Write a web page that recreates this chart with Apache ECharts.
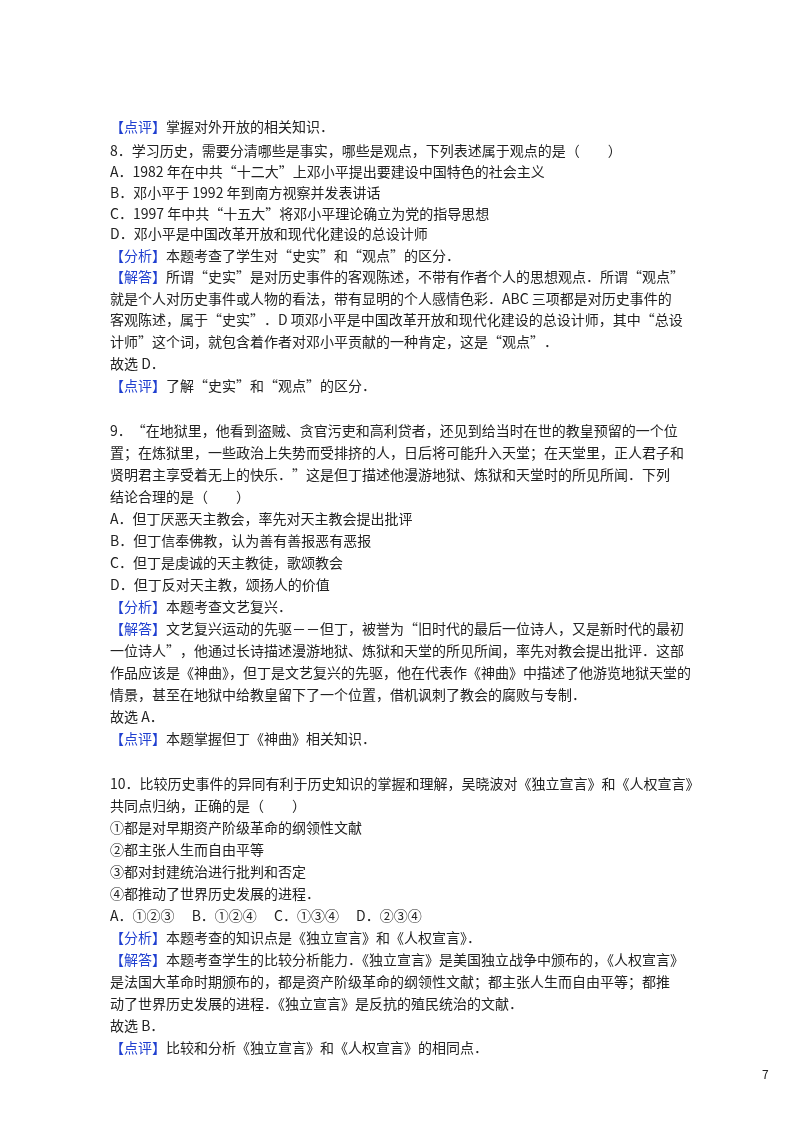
<!DOCTYPE html>
<html><head><meta charset="utf-8">
<script src="https://cdn.jsdelivr.net/npm/echarts@6/dist/echarts.min.js"></script>
<style>html,body{margin:0;padding:0;background:#fff}#c{width:800px;height:1132px}</style>
</head><body><div id="c"></div>
<script>
// Each entry: [y position of line center, text]; text in 【】 tags is blue
const lines = [
[127,'【点评】掌握对外开放的相关知识．'],
[151,'8．学习历史，需要分清哪些是事实，哪些是观点，下列表述属于观点的是（　　）'],
[172,'A．1982 年在中共“十二大”上邓小平提出要建设中国特色的社会主义'],
[193,'B．邓小平于 1992 年到南方视察并发表讲话'],
[214,'C．1997 年中共“十五大”将邓小平理论确立为党的指导思想'],
[234,'D．邓小平是中国改革开放和现代化建设的总设计师'],
[256,'【分析】本题考查了学生对“史实”和“观点”的区分．'],
[277,'【解答】所谓“史实”是对历史事件的客观陈述，不带有作者个人的思想观点．所谓“观点”'],
[299,'就是个人对历史事件或人物的看法，带有显明的个人感情色彩．ABC 三项都是对历史事件的'],
[320,'客观陈述，属于“史实”．D 项邓小平是中国改革开放和现代化建设的总设计师，其中“总设'],
[342,'计师”这个词，就包含着作者对邓小平贡献的一种肯定，这是“观点”．'],
[364,'故选 D．'],
[386,'【点评】了解“史实”和“观点”的区分．'],
[431,'9．“在地狱里，他看到盗贼、贪官污吏和高利贷者，还见到给当时在世的教皇预留的一个位'],
[453,'置；在炼狱里，一些政治上失势而受排挤的人，日后将可能升入天堂；在天堂里，正人君子和'],
[475,'贤明君主享受着无上的快乐．”这是但丁描述他漫游地狱、炼狱和天堂时的所见所闻．下列'],
[497,'结论合理的是（　　）'],
[519,'A．但丁厌恶天主教会，率先对天主教会提出批评'],
[541,'B．但丁信奉佛教，认为善有善报恶有恶报'],
[563,'C．但丁是虔诚的天主教徒，歌颂教会'],
[585,'D．但丁反对天主教，颂扬人的价值'],
[607,'【分析】本题考查文艺复兴．'],
[629,'【解答】文艺复兴运动的先驱－－但丁，被誉为“旧时代的最后一位诗人，又是新时代的最初'],
[651,'一位诗人”，他通过长诗描述漫游地狱、炼狱和天堂的所见所闻，率先对教会提出批评．这部'],
[673,'作品应该是《神曲》，但丁是文艺复兴的先驱，他在代表作《神曲》中描述了他游览地狱天堂的'],
[695,'情景，甚至在地狱中给教皇留下了一个位置，借机讽刺了教会的腐败与专制．'],
[717,'故选 A．'],
[739,'【点评】本题掌握但丁《神曲》相关知识．'],
[784,'10．比较历史事件的异同有利于历史知识的掌握和理解，吴晓波对《独立宣言》和《人权宣言》'],
[806,'共同点归纳，正确的是（　　）'],
[828,'①都是对早期资产阶级革命的纲领性文献'],
[850,'②都主张人生而自由平等'],
[872,'③都对封建统治进行批判和否定'],
[894,'④都推动了世界历史发展的进程．'],
[916,'A．①②③　 B．①②④　 C．①③④　 D．②③④'],
[938,'【分析】本题考查的知识点是《独立宣言》和《人权宣言》．'],
[960,'【解答】本题考查学生的比较分析能力．《独立宣言》是美国独立战争中颁布的，《人权宣言》'],
[982,'是法国大革命时期颁布的，都是资产阶级革命的纲领性文献；都主张人生而自由平等；都推'],
[1004,'动了世界历史发展的进程．《独立宣言》是反抗的殖民统治的文献．'],
[1026,'故选 B．'],
[1048,'【点评】比较和分析《独立宣言》和《人权宣言》的相同点．']
];
const pageNumber = '7';

const chart = echarts.init(document.getElementById('c'));
const font = '"Noto Sans CJK SC","Noto Sans",sans-serif';
const elements = lines.map(([y, t]) => {
  const m = t.match(/^(【[^】]+】)(.*)$/);
  const txt = m ? '{b|' + m[1] + '}' + m[2] : t;
  return {type:'text', x:110, y:y, style:{text:txt, fill:'#222', font:'14px '+font,
    verticalAlign:'middle', rich:{b:{fill:'#1f3fd0', fontSize:14, fontFamily:font}}}};
});
elements.push({type:'text', x:762, y:1074, style:{text:pageNumber, fill:'#222', font:'12px '+font, verticalAlign:'middle'}});
chart.setOption({animation:false, graphic:{elements}});
</script></body></html>
